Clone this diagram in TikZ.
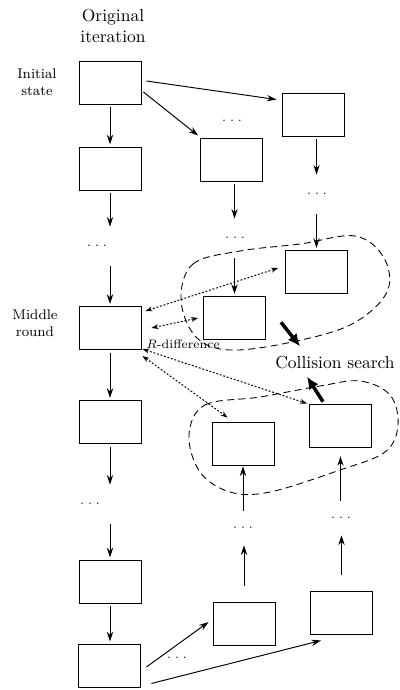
\documentclass[tikz,border=0pt]{standalone}
\usetikzlibrary{arrows.meta,calc}
\newcommand{\mydots}{.\hspace{2.2pt}.\hspace{2.2pt}.}
\begin{document}
\begin{tikzpicture}[x=0.5714pt,y=-0.5714pt,
  box/.style={draw, line width=0.5pt, minimum width=35.4pt, minimum height=24.6pt, inner sep=0pt},
  dd/.style={inner sep=0pt, minimum height=19.4pt, font=\scriptsize},
  arr/.style={-{Stealth[length=5.5pt,width=3.6pt,inset=1.8pt]}, line width=0.55pt},
  darr/.style={{Stealth[length=4pt,width=2.8pt,inset=1.3pt]}-{Stealth[length=4pt,width=2.8pt,inset=1.3pt]}, dash pattern=on 1.1pt off 1pt, line width=0.55pt},
  blob/.style={dash pattern=on 4pt off 2.5pt, line width=0.5pt},
  bigarr/.style={-{Latex[length=7pt,width=6.5pt]}, line width=2pt},
  lbl/.style={font=\footnotesize, align=center, inner sep=0pt}]
\useasboundingbox (0,0) rectangle (400,690);

% left column
\node[box] (L1) at (110,82.5) {};
\node[box] (L2) at (110,168.5) {};
\node[box] (L3) at (110,328) {};
\node[box] (L4) at (110,422) {};
\node[box] (L5) at (110,581.5) {};
\node[box] (L6) at (109,665.5) {};
% upper columns
\node[box] (M1) at (231.5,159.5) {};
\node[box] (R1) at (313,114.5) {};
\node[box] (M2) at (234.5,318) {};
\node[box] (R2) at (316.5,272) {};
% lower columns
\node[box] (M3) at (243,443.5) {};
\node[box] (R3) at (340.5,425.5) {};
\node[box] (M4) at (244,623.5) {};
\node[box] (R4) at (341.5,612.5) {};

% dots
\node[dd] (LD1) at (97,246) {\mydots};
\node[dd] (LD2) at (90,504) {\mydots};
\node[dd] (DMt) at (232,121) {\mydots};
\node[dd] (DM) at (235,238) {\mydots};
\node[dd] (DR) at (317,194) {\mydots};
\node[dd] (DM3) at (243,528) {\mydots};
\node[dd] (DR3) at (341,518) {\mydots};
\node[dd] (DB) at (177,658) {\mydots};

% labels
\node[align=center, inner sep=0pt] (T) at (113,26) {Original\\iteration};
\node[lbl] (IS) at (37,82) {Initial\\state};
\node[lbl] (MR) at (35,323) {Middle\\round};
\node[font=\scriptsize, inner sep=0pt, anchor=west] (RD) at (146,344) {$R$-difference};
\node[inner sep=0pt] (CS) at (335,363) {Collision search};

% left column arrows
\begin{scope}[shorten <=1.7pt, shorten >=1.2pt]
\draw[arr] (L1.south) -- (L2.north);
\draw[arr] (L2.south) -- (L2.south |- LD1.north);
\draw[arr] (L3.north |- LD1.south) -- (L3.north);
\draw[arr] (L3.south) -- (L4.north);
\draw[arr] (L4.south) -- (L4.south |- LD2.north);
\draw[arr] (L5.north |- LD2.south) -- (L5.north);
\draw[arr] (L5.south) -- (L6.north -| L5.south);
% middle / right downward
\draw[arr] (M1.south -| M2.north) -- (DM.north -| M2.north);
\draw[arr] (DM.south -| M2.north) -- (M2.north);
\draw[arr] (R1.south -| R2.north) -- (DR.north -| R2.north);
\draw[arr] (DR.south -| R2.north) -- (R2.north);
\end{scope}
% upward arrows
\draw[arr, shorten <=8.6pt] (M4.north) -- (M4.north |- DM3.south);
\draw[arr, shorten >=0.5pt] (M3.south |- DM3.north) -- (M3.south);
\draw[arr, shorten <=8.6pt] (R4.north) -- (R4.north |- DR3.south);
\draw[arr, shorten >=5pt] (R3.south |- DR3.north) -- (R3.south);

% diagonal arrows
\draw[arr] ($(L1.east)+(5,-1.5)$) -- ($(R1.north west)+(-5,7)$);
\draw[arr] ($(L1.east)+(2,9.5)$) -- ($(M1.north west)+(-2,-2)$);
\draw[arr] ($(L6.east)+(6,1.5)$) -- ($(M4.west)+(-4,-1.5)$);
\draw[arr] ($(L6.south east)+(11,-4)$) -- ($(R4.south west)+(11,6)$);

% dotted double arrows
\draw[darr] ($(L3.north east)+(4,5)$) -- ($(R2.west)+(-7,-4)$);
\draw[darr] ($(L3.east)+(10,0)$) -- ($(M2.west)+(-5,0)$);
\draw[darr] ($(L3.south east)+(1,-1)$) -- ($(R3.north west)+(-2,0)$);
\draw[darr] ($(L3.south east)+(1,6)$) -- ($(M3.north west)+(16,-4)$);

% blobs
\draw[blob] plot[smooth cycle, tension=0.6] coordinates {(181,300) (193,264) (240,251) (300,244) (355,236) (384,258) (387,292) (352,324) (292,342) (230,350) (196,337)};
\draw[blob] plot[smooth cycle, tension=0.6] coordinates {(189,435) (205,405) (260,397) (320,386) (360,381) (390,395) (398,425) (385,452) (340,470) (270,492) (230,492) (200,472)};

% collision search arrows
\draw[bigarr] ($(CS.north)+(-54,-34)$) -- ($(CS.north)+(-35,-10)$);
\draw[bigarr] ($(CS.south)+(-12,32)$) -- ($(CS.south)+(-28,7)$);
\end{tikzpicture}
\end{document}
